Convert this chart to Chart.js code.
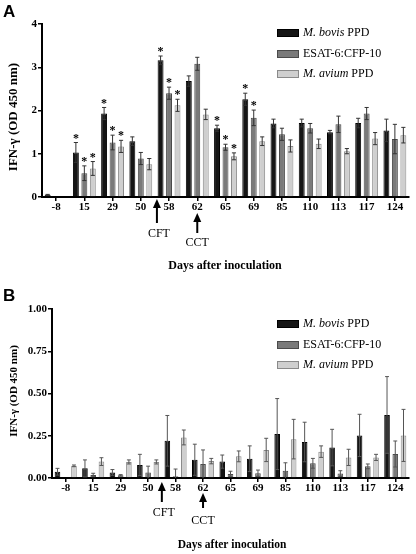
<!DOCTYPE html>
<html>
<head>
<meta charset="utf-8">
<script src="https://cdn.jsdelivr.net/npm/chart.js@4.4.0/dist/chart.umd.min.js"></script>
<style>
html,body{margin:0;padding:0;background:#fff;}
#wrap{position:relative;width:416px;height:554px;overflow:hidden;}
canvas{position:absolute;left:0;}
#cA{top:0;}
#cB{top:280px;}
</style>
</head>
<body>
<div id="wrap">
<canvas id="cA" width="416" height="280"></canvas>
<canvas id="cB" width="416" height="274"></canvas>
</div>
<script>
// ---------- data ----------
const days = ['-8','15','29','50','58','62','65','69','85','110','113','117','124'];
const seriesNames = ['M. bovis PPD','ESAT-6:CFP-10','M. avium PPD'];

// Panel A
const bovisA     = [0.05,1.03,1.93,1.29,3.16,2.68,1.59,2.26,1.70,1.71,1.50,1.71,1.54];
const bovisAErr  = [0.01,0.23,0.14,0.10,0.10,0.12,0.07,0.14,0.10,0.09,0.04,0.11,0.26];
const esatA      = [0.00,0.55,1.26,0.89,2.40,3.08,1.15,1.83,1.45,1.59,1.68,1.93,1.34];
const esatAErr   = [0.00,0.17,0.17,0.14,0.14,0.15,0.07,0.18,0.14,0.11,0.19,0.14,0.34];
const aviumA     = [0.02,0.66,1.17,0.76,2.12,1.91,0.94,1.29,1.18,1.23,1.06,1.35,1.43];
const aviumAErr  = [0.00,0.16,0.14,0.13,0.14,0.12,0.08,0.10,0.14,0.11,0.06,0.14,0.18];
const starsBovisA = [0,1,1,0,1,0,1,1,0,0,0,0,0];
const starsEsatA  = [0,1,1,0,1,0,1,1,0,0,0,0,0];
const starsAviumA = [0,1,1,0,1,0,1,0,0,0,0,0,0];
const ticksA = [0,1,2,3,4];

// Panel B
const bovisB     = [0.037,0.057,0.033,0.077,0.220,0.108,0.097,0.114,0.260,0.213,0.180,0.252,0.373];
const bovisBErr  = [0.020,0.050,0.017,0.063,0.150,0.092,0.039,0.076,0.210,0.117,0.108,0.125,0.227];
const esatB      = [0.000,0.018,0.016,0.033,0.010,0.083,0.024,0.028,0.043,0.087,0.026,0.069,0.142];
const esatBErr   = [0.000,0.010,0.004,0.037,0.043,0.083,0.016,0.019,0.047,0.029,0.017,0.014,0.077];
const aviumB     = [0.072,0.097,0.095,0.095,0.240,0.100,0.128,0.166,0.230,0.156,0.122,0.122,0.252];
const aviumBErr  = [0.005,0.023,0.012,0.012,0.044,0.016,0.032,0.069,0.117,0.034,0.048,0.018,0.154];
const ticksB = ['0.00','0.25','0.50','0.75','1.00'];

// ---------- styling ----------
const fills   = ['#151515','#7a7a7a','#cfcfcf'];
const borders = ['#000000','#4a4a4a','#8a8a8a'];
const SERIF = '"Liberation Serif","DejaVu Serif",serif';
const SANS  = '"Liberation Sans",Arial,sans-serif';

function drawArrow(ctx, x, yTop, yBot){
  ctx.save();
  ctx.fillStyle = '#000';
  ctx.strokeStyle = '#000';
  ctx.lineWidth = 2;
  ctx.beginPath();
  ctx.moveTo(x, yTop+6);
  ctx.lineTo(x, yBot);
  ctx.stroke();
  ctx.beginPath();
  ctx.moveTo(x, yTop);
  ctx.lineTo(x-4, yTop+9);
  ctx.lineTo(x+4, yTop+9);
  ctx.closePath();
  ctx.fill();
  ctx.restore();
}

function makeChart(id, cfg){
  const errs = cfg.errs, stars = cfg.stars;
  const overlay = {
    id: 'overlay_'+id,
    afterDatasetsDraw(chart){
      const ctx = chart.ctx;
      const y = chart.scales.y;
      ctx.save();
      chart.data.datasets.forEach((ds, i) => {
        const meta = chart.getDatasetMeta(i);
        meta.data.forEach((bar, j) => {
          const v = ds.data[j], e = errs[i][j];
          const x = bar.x;
          const yT = y.getPixelForValue(v + e);
          const yB = y.getPixelForValue(Math.max(v - e, 0));
          if (e > 0) {
            ctx.strokeStyle = cfg.errColor;
            ctx.lineWidth = 1;
            const cw = bar.width * 0.35;
            ctx.beginPath();
            ctx.moveTo(x, yT); ctx.lineTo(x, yB);
            ctx.moveTo(x - cw, yT); ctx.lineTo(x + cw, yT);
            if (v - e > 0) { ctx.moveTo(x - cw, yB); ctx.lineTo(x + cw, yB); }
            ctx.stroke();
          }
          if (stars && stars[i][j]) {
            ctx.fillStyle = '#000';
            ctx.font = 'bold 12px ' + SERIF;
            ctx.textAlign = 'center';
            ctx.textBaseline = 'middle';
            ctx.fillText('*', x, yT - 4);
          }
        });
      });
      ctx.restore();
    },
    afterDraw(chart){
      const ctx = chart.ctx;
      const x = chart.scales.x;
      const area = chart.chartArea;
      ctx.save();
      // panel letter
      ctx.fillStyle = '#000';
      ctx.font = 'bold 17px ' + SANS;
      ctx.textAlign = 'left';
      ctx.textBaseline = 'top';
      ctx.fillText(cfg.letter, 3, cfg.letterY);
      // y title
      ctx.save();
      ctx.translate(14, cfg.yTitleY);
      ctx.rotate(-Math.PI/2);
      ctx.font = 'bold ' + cfg.yTitleSize + 'px ' + SERIF;
      ctx.textAlign = 'center';
      ctx.textBaseline = 'middle';
      ctx.fillText('IFN-\u03b3 (OD 450 nm)', 0, 0);
      ctx.restore();
      // arrows
      const xCFT = (x.getPixelForTick(3) + x.getPixelForTick(4)) / 2 + cfg.cftOff;
      const xCCT = x.getPixelForTick(5);
      const b = area.bottom;
      drawArrow(ctx, xCFT, b + cfg.cft[0], b + cfg.cft[1]);
      drawArrow(ctx, xCCT, b + cfg.cct[0], b + cfg.cct[1]);
      ctx.font = '12px ' + SERIF;
      ctx.textAlign = 'center';
      ctx.textBaseline = 'middle';
      ctx.fillText('CFT', xCFT + 2, b + cfg.cft[2]);
      ctx.fillText('CCT', xCCT, b + cfg.cct[2]);
      // x title
      ctx.font = 'bold ' + cfg.xTitleSize + 'px ' + SERIF;
      ctx.fillText('Days after inoculation', cfg.xTitleX, b + cfg.xTitleDy);
      // legend
      chart.data.datasets.forEach((ds, i) => {
        const ly = cfg.legendY[i];
        ctx.fillStyle = fills[i];
        ctx.strokeStyle = borders[i];
        ctx.lineWidth = 1;
        ctx.fillRect(277, ly - 4, 22, 8);
        ctx.strokeRect(277.5, ly - 3.5, 21, 7);
        ctx.fillStyle = '#000';
        ctx.textAlign = 'left';
        ctx.textBaseline = 'middle';
        const name = ds.label;
        let tx = 303;
        if (name.startsWith('M. ')) {
          const parts = name.split(' ');
          const it = parts[0] + ' ' + parts[1];
          const rest = ' ' + parts.slice(2).join(' ');
          ctx.font = 'italic 12px ' + SERIF;
          ctx.fillText(it, tx, ly);
          tx += ctx.measureText(it).width;
          ctx.font = '12px ' + SERIF;
          ctx.fillText(rest, tx, ly);
        } else {
          ctx.font = '12px ' + SERIF;
          ctx.fillText(name, tx, ly);
        }
      });
      ctx.restore();
    }
  };

  return new Chart(document.getElementById(id), {
    type: 'bar',
    data: {
      labels: days,
      datasets: cfg.data.map((d, i) => ({
        label: seriesNames[i],
        data: d,
        backgroundColor: fills[i],
        borderColor: borders[i],
        borderWidth: 1,
        categoryPercentage: 0.9,
        barPercentage: cfg.barPct
      }))
    },
    options: {
      responsive: false,
      animation: false,
      devicePixelRatio: 1,
      layout: { padding: { left: 0, right: cfg.padRight, top: cfg.padTop, bottom: 0 } },
      plugins: { legend: { display: false }, tooltip: { enabled: false } },
      scales: {
        x: {
          afterFit(s){ s.height = cfg.xHeight; },
          border: { display: true, color: '#000', width: 2 },
          grid: { display: true, drawOnChartArea: false, drawTicks: true, tickLength: 4, color: '#000', lineWidth: 1.5, offset: false },
          ticks: { color: '#000', font: { family: SERIF, weight: 'bold', size: 11 }, padding: 0, maxRotation: 0, autoSkip: false }
        },
        y: {
          min: 0, max: cfg.yMax,
          afterFit(s){ s.width = cfg.yWidth; },
          afterBuildTicks(s){ s.ticks = cfg.yTicks.map(v => ({ value: +v })); },
          border: { display: true, color: '#000', width: 2 },
          grid: { display: true, drawOnChartArea: false, drawTicks: true, tickLength: 4, color: '#000', lineWidth: 1.5 },
          ticks: {
            color: '#000', padding: 1,
            font: { family: SERIF, weight: 'bold', size: cfg.yTickSize },
            callback: (v) => cfg.yFmt(v)
          }
        }
      }
    },
    plugins: [overlay]
  });
}

makeChart('cA', {
  letter: 'A', letterY: 4,
  data: [bovisA, esatA, aviumA],
  errs: [bovisAErr, esatAErr, aviumAErr],
  stars: [starsBovisA, starsEsatA, starsAviumA],
  errColor: '#333',
  barPct: 0.7,
  yMax: 4, yTicks: ticksA, yFmt: v => String(v), yTickSize: 11,
  padTop: 24, padRight: 7, xHeight: 83, yWidth: 42,
  yTitleY: 117, yTitleSize: 13,
  cftOff: 2, cft: [2, 26, 37], cct: [16, 36, 46],
  xTitleX: 225, xTitleDy: 69, xTitleSize: 12,
  legendY: [33, 54, 74]
});

makeChart('cB', {
  letter: 'B', letterY: 8,
  data: [bovisB, esatB, aviumB],
  errs: [bovisBErr, esatBErr, aviumBErr],
  stars: null,
  errColor: '#555',
  barPct: 0.68,
  yMax: 1, yTicks: ticksB, yFmt: v => Number(v).toFixed(2), yTickSize: 11,
  padTop: 29, padRight: 7, xHeight: 76, yWidth: 52,
  yTitleY: 111, yTitleSize: 11,
  cftOff: 0, cft: [4, 24, 35], cct: [15, 30, 43],
  xTitleX: 232, xTitleDy: 67, xTitleSize: 11.5,
  legendY: [44, 65, 85]
});
</script>
</body>
</html>
